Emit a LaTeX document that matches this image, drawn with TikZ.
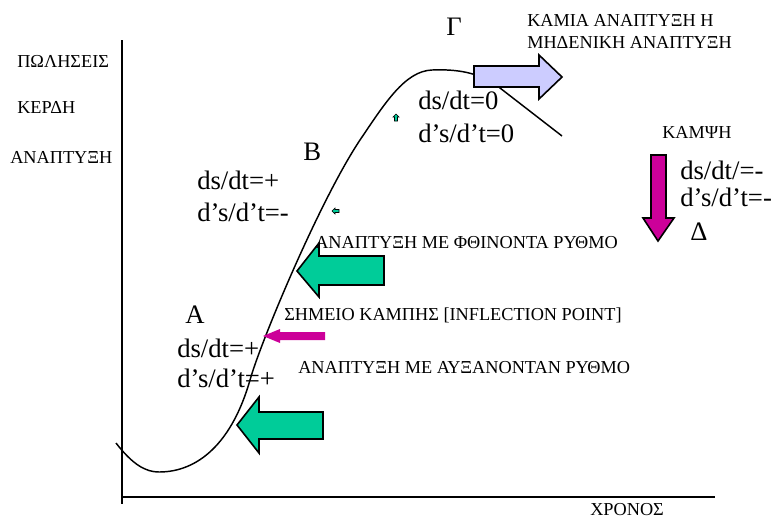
\documentclass[tikz,border=0pt]{standalone}
\usepackage{fontspec}
\setmainfont{Liberation Serif}
\usetikzlibrary{positioning}
\definecolor{growgreen}{RGB}{0,204,153}
\definecolor{bendpink}{RGB}{204,0,153}
\definecolor{flatblue}{RGB}{204,204,255}

\begin{document}
\begin{tikzpicture}[x=0.75pt,y=-0.75pt,
        big/.style={font=\fontsize{20}{22}\selectfont, inner sep=0pt, anchor=west},
        lbl/.style={font=\fontsize{13.7}{16}\selectfont, inner sep=0pt, anchor=west},
        blockarrow/.style={draw=black, line width=1.2pt, line join=miter},
        axisline/.style={line width=1.5pt}]
        \useasboundingbox (0,0) rectangle (773,519);
        % axes
        \coordinate (ytop) at (122,40);
        \coordinate (ybot) at (122,504);
        \coordinate (xleft) at (122,497);
        \coordinate (xright) at (715,497);
        \draw[axisline] (ytop) -- (ybot);
        \draw[axisline] (xleft) -- (xright);
        \node[lbl] (sales) at (17,61) {ΠΩΛΗΣΕΙΣ};
        \node[lbl] (profit) at (17,107) {ΚΕΡΔΗ};
        \node[lbl] (growth) at (10,157) {ΑΝΑΠΤΥΞΗ};
        \node[lbl] (time) at (590,510) {ΧΡΟΝΟΣ};
        % s-curve
        \draw[line width=1.1pt] (116,443) .. controls (133,465) and (146,472) .. (159,472)
          .. controls (198,472) and (232,443) .. (250,380)
          .. controls (261,341) and (320,200) .. (360,140)
          .. controls (385,103) and (405,71) .. (432,70)
          .. controls (458,69) and (480,72.5) .. (500,88) -- (562,136);
        % block arrows
        \draw[blockarrow, fill=growgreen] (297,271) -- (319,243) -- (319,256) -- (384,256) -- (384,285) -- (319,285) -- (319,297) -- cycle;
        \draw[blockarrow, fill=growgreen] (237,425) -- (259,397) -- (259,412) -- (323,412) -- (323,439) -- (259,439) -- (259,453) -- cycle;
        \fill[bendpink] (263,336) -- (280,329) -- (280,332) -- (325,332) -- (325,340) -- (280,340) -- (280,343) -- cycle;
        \draw[blockarrow, fill=bendpink] (651,155) -- (666,155) -- (666,218) -- (674,218) -- (658,241) -- (643,218) -- (651,218) -- cycle;
        \draw[blockarrow, fill=flatblue] (474,66) -- (539,66) -- (539,55) -- (562,77) -- (539,99) -- (539,87) -- (474,87) -- cycle;
        \draw[fill=growgreen, line width=0.4pt] (332,211) -- (335,208) -- (335,209.5) -- (339,209.5) -- (339,212.5) -- (335,212.5) -- (335,214) -- cycle;
        \draw[fill=growgreen, line width=0.4pt] (396,114) -- (399,117) -- (397.5,117) -- (397.5,121) -- (394.5,121) -- (394.5,117) -- (393,117) -- cycle;
        % phase letters
        \node[big] (phaseA) at (185,315) {Α};
        \node[big] (phaseB) at (303,152) {Β};
        \node[big] (phaseG) at (446,27) {Γ};
        \node[big] (phaseD) at (690,232) {Δ};
        % derivatives
        \node[big] (firstA) at (177,348) {ds/dt=+};
        \node[big] (secondA) at (177,378) {d’s/d’t=+};
        \node[big] (firstB) at (197,180) {ds/dt=+};
        \node[big] (secondB) at (197,212) {d’s/d’t=-};
        \node[big] (firstG) at (418,100) {ds/dt=0};
        \node[big] (secondG) at (418,133) {d’s/d’t=0};
        \node[big] (firstD) at (680,170) {ds/dt/=-};
        \node[big] (secondD) at (680,197) {d’s/d’t=-};
        % phase labels
        \node[lbl] (nogrowth) at (527,20) {ΚΑΜΙΑ ΑΝΑΠΤΥΞΗ Η};
        \node[lbl] (zerogrowth) at (527,42) {ΜΗΔΕΝΙΚΗ ΑΝΑΠΤΥΞΗ};
        \node[lbl] (decline) at (662,132) {ΚΑΜΨΗ};
        \node[lbl] (slowing) at (315,243) {ΑΝΑΠΤΥΞΗ ΜΕ ΦΘΙΝΟΝΤΑ ΡΥΘΜΟ};
        \node[lbl] (inflect) at (284,315) {ΣΗΜΕΙΟ ΚΑΜΠΗΣ [INFLECTION POINT]};
        \node[lbl] (rising) at (298,368) {ΑΝΑΠΤΥΞΗ ΜΕ ΑΥΞΑΝΟΝΤΑΝ ΡΥΘΜΟ};
      \end{tikzpicture}
\end{document}
